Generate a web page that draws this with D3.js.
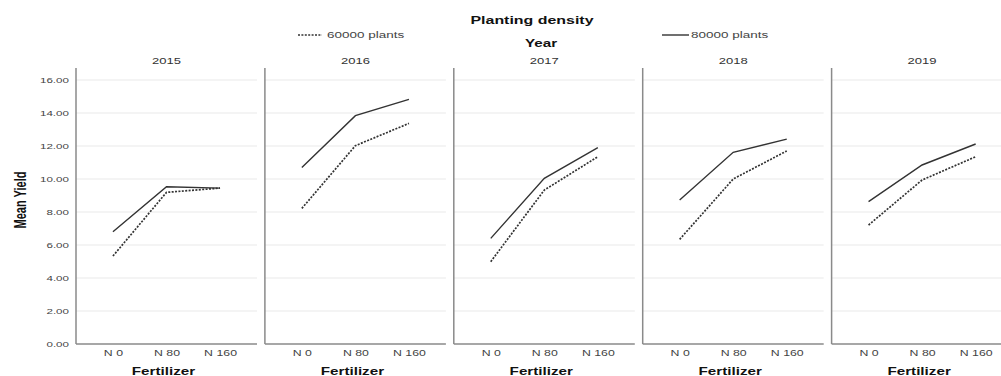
<!DOCTYPE html>
<html>
<head>
<meta charset="utf-8">
<script src="https://cdn.jsdelivr.net/npm/d3@7"></script>
<style>
  html, body { margin: 0; padding: 0; background: #fff; }
  svg { display: block; font-family: "Liberation Sans", Arial, sans-serif; }
</style>
</head>
<body>
<svg id="chart" width="1001" height="376"></svg>
<script>
// ---- data ----
const years = ["2015", "2016", "2017", "2018", "2019"];
const fertilizer = ["N 0", "N 80", "N 160"];
const densities = ["60000 plants", "80000 plants"];
const yTicks = [0, 2, 4, 6, 8, 10, 12, 14, 16];
// Mean yield per year, in fertilizer order (N 0, N 80, N 160)
const yield60000 = [
  [5.33, 9.19, 9.45],
  [8.22, 12.02, 13.37],
  [4.99, 9.33, 11.35],
  [6.34, 10.00, 11.70],
  [7.21, 9.94, 11.35]
];
const yield80000 = [
  [6.80, 9.53, 9.45],
  [10.70, 13.84, 14.83],
  [6.40, 10.04, 11.90],
  [8.73, 11.62, 12.42],
  [8.63, 10.85, 12.12]
];

// ---- layout ----
const SX = 1.45; // horizontal stretch of the reference text
const svg = d3.select("#chart");
const panelLeft0 = 76, panelStep = 188.9, panelW = 181;
const yTop = 80, yBottom = 344, axisTop = 68;

const y = d3.scaleLinear().domain([0, 16]).range([yBottom, yTop]);
const x = d3.scalePoint().domain(fertilizer).range([0, panelW]).padding(0.69);

const seriesStyle = [
  { name: densities[0], data: yield60000, dash: "2,1.4", width: 1.7 },
  { name: densities[1], data: yield80000, dash: null, width: 1.4 }
];

function stretchedText(g, tx, ty, str, opts) {
  const t = g.append("text")
    .attr("transform", `translate(${tx},${ty}) scale(${SX},1)`)
    .attr("text-anchor", opts.anchor || "middle")
    .attr("dy", "0.35em")
    .attr("font-size", opts.size)
    .attr("font-weight", opts.weight || "normal")
    .attr("fill", opts.fill || "#333")
    .text(str);
  return t;
}

// Titles and legend
stretchedText(svg, 532, 20, "Planting density", { size: 11, weight: "bold", fill: "#111" });
stretchedText(svg, 541, 43, "Year", { size: 10.5, weight: "bold", fill: "#111" });

const legendItems = [
  { x1: 298, x2: 322, tx: 327, s: seriesStyle[0] },
  { x1: 662, x2: 689, tx: 691, s: seriesStyle[1] }
];
legendItems.forEach(li => {
  svg.append("line")
    .attr("x1", li.x1).attr("x2", li.x2).attr("y1", 35).attr("y2", 35)
    .attr("stroke", "#333").attr("stroke-width", li.s.width)
    .attr("stroke-dasharray", li.s.dash);
  stretchedText(svg, li.tx, 35, li.s.name, { size: 9.3, anchor: "start", fill: "#444" });
});

// Y axis title
svg.append("text")
  .attr("transform", `translate(20,200) scale(${SX},1) rotate(-90)`)
  .attr("text-anchor", "middle")
  .attr("dy", "0.35em")
  .attr("font-size", 11)
  .attr("font-weight", "bold")
  .attr("fill", "#111")
  .text("Mean Yield");

const line = d3.line()
  .x((d, i) => x(fertilizer[i]))
  .y(d => y(d));

years.forEach((yr, pi) => {
  const px = panelLeft0 + pi * panelStep;
  const g = svg.append("g").attr("transform", `translate(${px},0)`);

  // gridlines
  g.append("g").selectAll("line")
    .data(yTicks.filter(t => t > 0))
    .join("line")
    .attr("x1", 0).attr("x2", panelW)
    .attr("y1", d => y(d)).attr("y2", d => y(d))
    .attr("stroke", "#e9e9e9").attr("stroke-width", 1);

  // year label
  stretchedText(g, panelW / 2, 61, yr, { size: 9, fill: "#333" });

  // x axis
  const xa = g.append("g")
    .attr("transform", `translate(0,${yBottom})`)
    .call(d3.axisBottom(x).tickSize(0).tickPadding(0));
  xa.select(".domain").remove();
  xa.selectAll("text")
    .attr("y", 0).attr("dy", "0.35em")
    .attr("transform", `translate(0,8.7) scale(${SX},1)`)
    .attr("font-size", 8.5)
    .attr("font-family", "Liberation Sans, Arial, sans-serif")
    .attr("fill", "#444");

  // y axis ticks on first panel only
  if (pi === 0) {
    const ya = g.append("g")
      .call(d3.axisLeft(y).tickValues(yTicks).tickSize(0).tickFormat(d3.format(".2f")));
    ya.select(".domain").remove();
    ya.selectAll("text")
      .attr("x", 0).attr("dy", "0.35em")
      .attr("transform", `translate(-7,0) scale(${SX},1)`)
      .attr("font-size", 8)
      .attr("font-family", "Liberation Sans, Arial, sans-serif")
      .attr("fill", "#444");
  }

  // axis lines
  g.append("line")
    .attr("x1", 0).attr("x2", panelW).attr("y1", yBottom).attr("y2", yBottom)
    .attr("stroke", "#8a8a8a").attr("stroke-width", 1.5);
  g.append("line")
    .attr("x1", 0).attr("x2", 0).attr("y1", axisTop).attr("y2", yBottom)
    .attr("stroke", "#8a8a8a").attr("stroke-width", 1.5);

  // x axis title
  stretchedText(g, x("N 80") - 3, 371, "Fertilizer", { size: 10.5, weight: "bold", fill: "#111" });

  // series lines
  seriesStyle.forEach(s => {
    g.append("path")
      .attr("d", line(s.data[pi]))
      .attr("fill", "none")
      .attr("stroke", "#333")
      .attr("stroke-width", s.width)
      .attr("stroke-dasharray", s.dash);
  });
});
</script>
</body>
</html>
